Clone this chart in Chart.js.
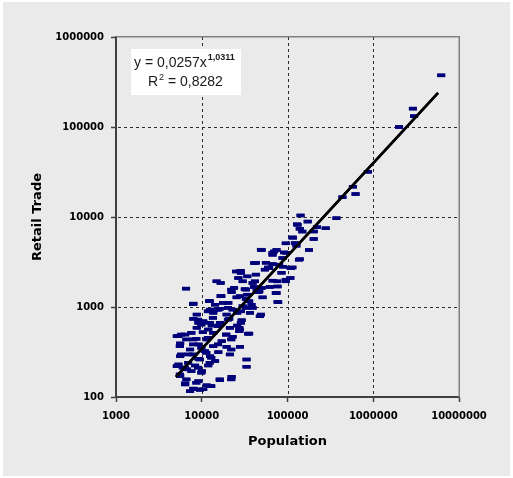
<!DOCTYPE html>
<html>
<head>
<meta charset="utf-8">
<title>Retail Trade vs Population</title>
<script src="https://cdn.jsdelivr.net/npm/chart.js@4.4.1/dist/chart.umd.min.js"></script>
<style>
    html, body { margin: 0; padding: 0; background: #ffffff; }
    #wrap { width: 513px; height: 478px; }
</style>
</head>
<body>
<div id="wrap"><canvas id="scatter-chart" width="513" height="478"></canvas></div>
<script>
// data
var popValues = [6200000, 2900000, 3000000, 2000000, 865000, 579000, 622000, 437000, 372000, 279000,
    142000, 129000, 172000, 221000, 202000, 116000, 139000, 202000, 95500, 127000,
    74500, 178000, 49900, 67000, 97200, 87500, 139000, 42800, 56000, 67000,
    59600, 54500, 88900, 114000, 85100, 108000, 95500, 75700, 28400, 34000,
    26700, 41700, 40600, 49900, 62200, 45600, 74500, 14900, 16600, 6560,
    23800, 31800, 22300, 34000, 16600, 25500, 32700, 12200, 7980, 20400,
    38100, 14300, 32700, 77800, 12500, 15600, 22900, 25900, 13600, 8750,
    19500, 47600, 36500, 20900, 7980, 10400, 29200, 16300, 13100, 25900,
    21300, 8750, 27900, 34800, 10300, 13600, 19200, 22900, 5350, 6400,
    7980, 11400, 17100, 27900, 5600, 9140, 13600, 19500, 7310, 10900,
    15600, 12500, 6980, 21300, 9140, 14300, 33300, 5350, 8360, 11900,
    6700, 10000, 33300, 22300, 16300, 6400, 9140, 11400, 7980, 9550,
    12500, 7310, 5120, 5120, 5600, 6400, 5600, 6010, 9140, 10400,
    13600, 16200, 11900, 43700, 5750, 7570, 6620, 8650, 11800, 19300,
    22100, 5550, 7930, 9890, 15500, 22100, 5750, 7930, 11300, 12900,
    9480, 6930, 12400, 9060, 6340, 7570, 5550, 9890, 16200, 22100,
    6620, 8650, 8280, 10400, 12900, 25200, 22100, 16900, 12400, 7930,
    17700, 11800, 14800, 20200, 9060, 13500, 12400, 20200, 9890, 15500,
    61100, 109000, 28600, 42800, 67000, 95500, 30000, 39200, 76600, 32700,
    46800, 27900, 73100, 51200, 76600, 35700, 30000, 39200, 49000, 28600,
    28600, 27400, 131000, 149000, 114000, 122000, 49000, 91200, 69800, 67000,
    136000, 40900, 79800, 27400, 35700];

var tradeValues = [375000, 160000, 132000, 100000, 31800, 21700, 18000, 16600, 9700, 7500,
    10400, 8300, 8900, 7700, 6900, 5900, 7400, 5700, 5100, 4800,
    4300, 4300, 4300, 4000, 4000, 3500, 3400, 3100, 3100, 3000,
    2750, 2600, 2800, 2750, 2400, 2100, 1930, 1930, 2530, 2190,
    2100, 1930, 1670, 1630, 1670, 1460, 1430, 1930, 1850, 1600,
    1630, 1580, 1460, 1370, 1320, 1280, 1230, 1160, 1090, 1110,
    1060, 1060, 977, 1130, 935, 935, 935, 861, 861, 824,
    824, 789, 861, 738, 738, 678, 713, 667, 622, 622,
    587, 587, 562, 504, 525, 516, 494, 467, 474, 494,
    436, 436, 417, 361, 394, 384, 367, 361, 337, 323,
    315, 284, 297, 297, 266, 251, 261, 230, 224, 224,
    203, 194, 217, 168, 154, 142, 150, 135, 124, 120,
    132, 116, 474, 220, 284, 138, 171, 212, 667, 695,
    895, 955, 562, 1560, 494, 516, 436, 443, 455, 494,
    436, 367, 384, 352, 384, 337, 297, 297, 310, 273,
    261, 240, 240, 212, 212, 194, 178, 186, 157, 157,
    157, 144, 122, 122, 132, 2480, 1560, 1320, 1160, 1080,
    1110, 895, 935, 977, 724, 757, 667, 724, 638, 611,
    2710, 2710, 2390, 2290, 1960, 2010, 1930, 1850, 1690, 1560,
    1490, 1320, 1430, 1280, 1140, 1160, 1020, 977, 824, 895,
    667, 587, 8180, 6890, 5920, 5130, 4330, 4040, 4140, 3800,
    3350, 3080, 2950, 538, 507];

// power trend line y = 0,0257x^1,0311, end points
var trendPop = [5000, 5700000];
var trendTrade = [167, 239000];

var popTicks = [1000, 10000, 100000, 1000000, 10000000];
var tradeTicks = [100, 1000, 10000, 100000, 1000000];

var eqLine1 = 'y = 0,0257x';
var eqPower = '1,0311';
var eqLine2a = 'R';
var eqLine2b = '2';
var eqLine2c = ' = 0,8282';


(function () {
    "use strict";

    var points = popValues.map(function (p, i) {
        return { x: p, y: tradeValues[i] };
    });
    var trend = trendPop.map(function (p, i) {
        return { x: p, y: trendTrade[i] };
    });

    var tickFont = { family: "'DejaVu Sans', sans-serif", size: 10, weight: 'bold' };
    var titleFont = { family: "'DejaVu Sans', sans-serif", size: 13, weight: 'bold' };

    // only the decades, plain numbers
    var decadeTicks = function (list) {
        return function (axis) {
            axis.ticks = list.map(function (v) { return { value: v }; });
        };
    };

    // dashed grid at the inner decades + grey top/right frame
    var drawGrid = function (chart) {
        var c = chart.ctx, a = chart.chartArea;
        var sx = chart.scales.x, sy = chart.scales.y;
        c.save();
        c.fillStyle = '#2a2a2a';
        popTicks.slice(1, -1).forEach(function (v) {
            var px = Math.round(sx.getPixelForValue(v));
            for (var t = a.top; t < a.bottom; t += 6) {
                c.fillRect(px, t, 1, Math.min(3, a.bottom - t));
            }
        });
        tradeTicks.slice(1, -1).forEach(function (v) {
            var py = Math.round(sy.getPixelForValue(v));
            for (var t = a.left + 2; t < a.right; t += 6) {
                c.fillRect(t, py, Math.min(3, a.right - t), 1);
            }
        });
        c.fillStyle = '#808080';
        c.fillRect(a.left, a.top - 1, a.right - a.left, 1.5);
        c.fillRect(a.right - 0.5, a.top - 1, 1.5, a.bottom - a.top + 1);
        c.restore();
    };

    var drawEquation = function (chart) {
        var c = chart.ctx, a = chart.chartArea;
        var bx = a.left + 15, by = a.top + 12;
        c.save();
        c.fillStyle = '#ffffff';
        c.fillRect(bx, by, 110, 46);
        c.fillStyle = '#1a1a1a';
        c.textBaseline = 'alphabetic';
        c.font = "14px 'Liberation Sans', Arial, sans-serif";
        c.fillText(eqLine1, bx + 3, by + 18);
        var w1 = c.measureText(eqLine1).width;
        c.font = "bold 9px 'Liberation Sans', Arial, sans-serif";
        c.fillText(eqPower, bx + 4 + w1, by + 11);

        c.font = "14px 'Liberation Sans', Arial, sans-serif";
        var x2 = bx + 17;
        c.fillText(eqLine2a, x2, by + 37);
        x2 += c.measureText(eqLine2a).width + 1;
        c.font = "9px 'Liberation Sans', Arial, sans-serif";
        c.fillText(eqLine2b, x2, by + 31);
        x2 += c.measureText(eqLine2b).width;
        c.font = "14px 'Liberation Sans', Arial, sans-serif";
        c.fillText(eqLine2c, x2, by + 37);
        c.restore();
    };

    var frame = {
        id: 'frame',
        beforeDraw: function (chart) {
            var c = chart.ctx;
            c.save();
            c.fillStyle = '#eaeaea';
            c.fillRect(3, 2, chart.width - 6, chart.height - 4);
            c.restore();
        },
        afterDraw: function (chart) {
            drawGrid(chart);
            // put the points and the trend line back over the grid
            for (var d = chart.data.datasets.length - 1; d >= 0; d--) {
                chart.getDatasetMeta(d).controller.draw();
            }
            drawEquation(chart);
        }
    };


    // Scatter Chart
    var ctx1 = document.getElementById('scatter-chart').getContext('2d');
    var myChart1 = new Chart(ctx1, {
        type: 'scatter',
        data: {
            datasets: [{
                label: 'Trend',
                data: trend,
                showLine: true,
                borderColor: '#000000',
                borderWidth: 2.5,
                pointRadius: 0,
                fill: false
            },
            {
                label: 'Retail Trade',
                data: points,
                pointStyle: 'line',
                pointRadius: 4,
                pointBorderWidth: 3.5,
                borderColor: '#00007a',
                backgroundColor: '#00007a'
            }]
        },
        options: {
            responsive: false,
            animation: false,
            layout: { padding: { left: 0, right: 54, top: 37, bottom: 0 } },
            plugins: {
                legend: { display: false },
                tooltip: { enabled: false }
            },
            scales: {
                x: {
                    type: 'logarithmic',
                    min: 1000,
                    max: 10000000,
                    afterBuildTicks: decadeTicks(popTicks),
                    afterFit: function (s) { s.height = 81; },
                    ticks: {
                        color: '#000000',
                        font: tickFont,
                        padding: 8,
                        maxRotation: 0,
                        autoSkip: false,
                        callback: function (v) { return String(v); }
                    },
                    grid: {
                        drawOnChartArea: false,
                        tickColor: '#404040',
                        tickLength: 5,
                        tickWidth: 1.5
                    },
                    border: { display: true, color: '#404040', width: 2 },
                    title: {
                        display: true,
                        text: 'Population',
                        color: '#000000',
                        font: titleFont,
                        padding: { top: 0, bottom: 29 }
                    }
                },
                y: {
                    type: 'logarithmic',
                    min: 100,
                    max: 1000000,
                    afterBuildTicks: decadeTicks(tradeTicks),
                    afterFit: function (s) { s.width = 116; },
                    ticks: {
                        color: '#000000',
                        font: tickFont,
                        padding: 7,
                        autoSkip: false,
                        callback: function (v) { return String(v); }
                    },
                    grid: {
                        drawOnChartArea: false,
                        tickColor: '#404040',
                        tickLength: 5,
                        tickWidth: 1.5
                    },
                    border: { display: true, color: '#404040', width: 2 },
                    title: {
                        display: true,
                        text: 'Retail Trade',
                        color: '#000000',
                        font: titleFont,
                        padding: { top: 30, bottom: 0 }
                    }
                }
            }
        },
        plugins: [frame]
    });

})();
</script>
</body>
</html>
